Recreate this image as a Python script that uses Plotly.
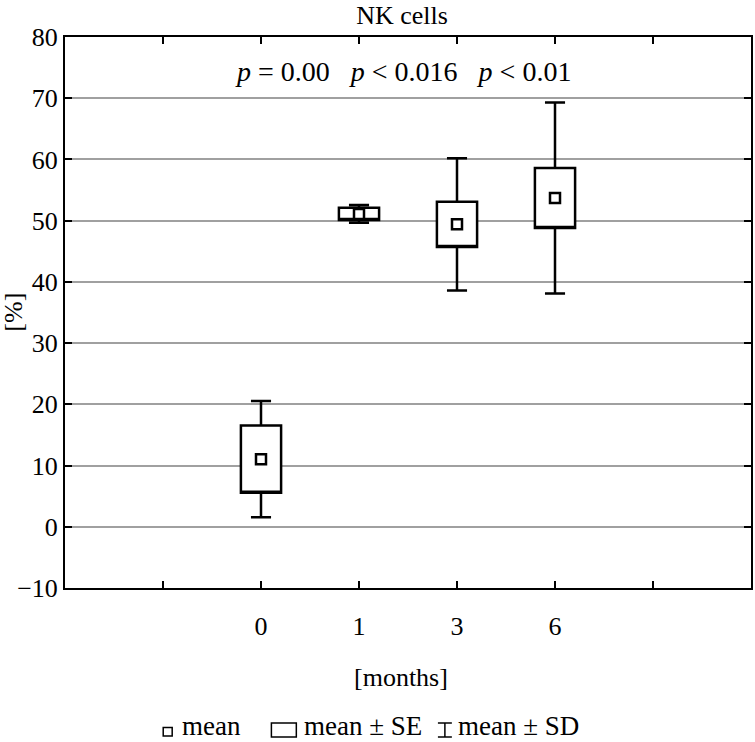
import plotly.graph_objects as go

# ---- data ----
months = ["0", "1", "3", "6"]
means = [11.05, 51.1, 49.4, 53.7]
se = [5.5, 1.0, 3.7, 4.9]
sd = [9.5, 1.45, 10.8, 15.6]
y_ticks = [-10, 0, 10, 20, 30, 40, 50, 60, 70, 80]
p_labels = ["<i>p</i> = 0.00", "<i>p</i> &lt; 0.016", "<i>p</i> &lt; 0.01"]

xpos = list(range(len(months)))
q1 = [m - s for m, s in zip(means, se)]
q3 = [m + s for m, s in zip(means, se)]
lo = [m - s for m, s in zip(means, sd)]
hi = [m + s for m, s in zip(means, sd)]

FONT = "Liberation Serif"
FS = 26

fig = go.Figure()
fig.add_trace(go.Box(
    x=xpos, q1=q1, median=q1, q3=q3, lowerfence=lo, upperfence=hi,
    width=0.41, whiskerwidth=0.5, boxpoints=False,
    fillcolor="white", line=dict(color="black", width=2.5),
    showlegend=False, hoverinfo="skip",
))
fig.add_trace(go.Scatter(
    x=xpos, y=means, mode="markers",
    marker=dict(symbol="square", size=10, color="white",
                line=dict(color="black", width=2.5)),
    showlegend=False, hoverinfo="skip",
))

# layout geometry
L, R, T, B = 65, 2, 37, 154
W, H = 755, 742
PW = W - L - R
PH = H - T - B


def px2x(px):
    return (px - L) / PW


def py2y(py):
    return (H - B - py) / PH


txtfont = dict(family=FONT, size=FS, color="black")
bigfont = dict(family=FONT, size=27, color="black")
ann = []
# p-value line
ann.append(dict(text="\u00a0\u00a0\u00a0".join(p_labels), xref="paper", yref="paper",
                x=px2x(404), y=py2y(71), xanchor="center", yanchor="middle",
                showarrow=False, font=dict(family=FONT, size=28, color="black")))
# axis titles
ann.append(dict(text="[months]", xref="paper", yref="paper", x=px2x(402), y=py2y(677),
                xanchor="center", yanchor="middle", showarrow=False, font=txtfont))
ann.append(dict(text="[%]", xref="paper", yref="paper", x=px2x(13), y=0.5, textangle=-90,
                xanchor="center", yanchor="middle", showarrow=False, font=txtfont))
# legend texts
for txt, px in [("mean", 180), ("mean \u00b1 SE", 303), ("mean \u00b1\u00a0SD", 457)]:
    ann.append(dict(text=txt, xref="paper", yref="paper", x=px2x(px), y=py2y(726),
                    xanchor="left", yanchor="middle", showarrow=False, font=bigfont))

shapes = []
lw = dict(color="black", width=1.5)
shapes.append(dict(type="rect", xref="paper", yref="paper",
                   x0=px2x(163.5), x1=px2x(172.5), y0=py2y(727.5), y1=py2y(736),
                   line=lw, fillcolor="white"))
shapes.append(dict(type="rect", xref="paper", yref="paper",
                   x0=px2x(272), x1=px2x(297), y0=py2y(723), y1=py2y(737),
                   line=lw, fillcolor="white"))
shapes.append(dict(type="line", xref="paper", yref="paper",
                   x0=px2x(439), x1=px2x(453), y0=py2y(723), y1=py2y(723), line=lw))
shapes.append(dict(type="line", xref="paper", yref="paper",
                   x0=px2x(439), x1=px2x(453), y0=py2y(737), y1=py2y(737), line=lw))
shapes.append(dict(type="line", xref="paper", yref="paper",
                   x0=px2x(446), x1=px2x(446), y0=py2y(723), y1=py2y(737), line=lw))

fig.update_layout(
    width=W, height=H,
    margin=dict(l=L, r=R, t=T, b=B),
    paper_bgcolor="white", plot_bgcolor="white",
    font=txtfont,
    title=dict(text="NK cells", x=402 / W, xanchor="center",
               y=1 - 15 / H, yanchor="middle", yref="container",
               font=txtfont),
    annotations=ann, shapes=shapes,
    showlegend=False,
)
fig.update_xaxes(
    range=[-2, 5], tickvals=[-1, 0, 1, 2, 3, 4], ticktext=[""] + months + [""],
    ticks="inside", ticklen=7, tickwidth=1.5, tickcolor="black",
    showline=True, linecolor="black", linewidth=2, mirror="ticks",
    showgrid=False, zeroline=False, ticklabelstandoff=14,
    tickfont=txtfont,
)
fig.update_yaxes(
    range=[-10, 80], tickvals=y_ticks,
    ticktext=[("\u2212" + str(-v)) if v < 0 else str(v) for v in y_ticks],
    ticks="inside", ticklen=7, tickwidth=1.5, tickcolor="black",
    showline=True, linecolor="black", linewidth=2, mirror="ticks",
    showgrid=True, gridcolor="#a0a0a0", gridwidth=1.5, zeroline=False,
    ticklabelstandoff=0,
    tickfont=txtfont,
)

fig.write_html("out.html", config={"displayModeBar": False},
               post_script="document.body.style.margin='0px';document.body.style.padding='0px';")
